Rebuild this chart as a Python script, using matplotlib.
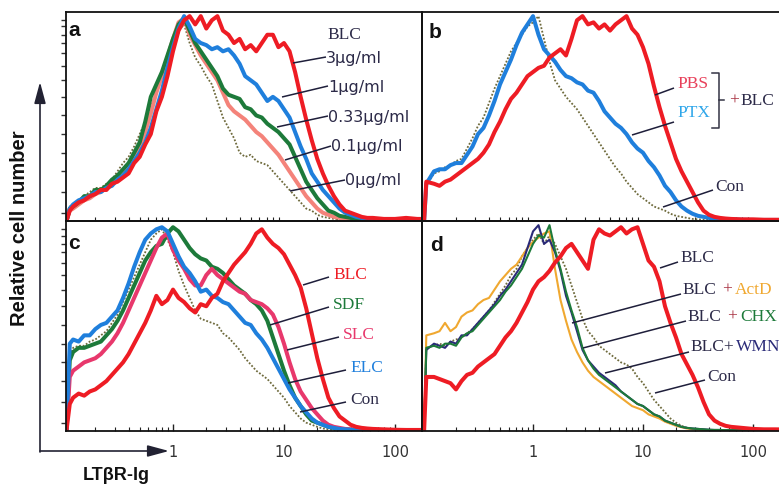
import numpy as np
import matplotlib
matplotlib.use("Agg")
import matplotlib.pyplot as plt
from matplotlib.ticker import LogLocator, NullFormatter

W, H = 779, 491

# channel positions (log10 of LTbR-Ig intensity); same middle grid for both columns
MID = [-0.9, -0.85, -0.8, -0.75, -0.7, -0.65, -0.6, -0.55, -0.5, -0.45,
       -0.4, -0.35, -0.3, -0.25, -0.2, -0.15, -0.1, -0.05, 0.0, 0.05,
       0.1, 0.15, 0.2, 0.25, 0.3, 0.35, 0.4, 0.45, 0.5, 0.55,
       0.6, 0.65, 0.7, 0.75, 0.8, 0.85, 0.9, 0.95, 1.0, 1.05,
       1.1, 1.15, 1.2, 1.25, 1.3, 1.35, 1.4, 1.45, 1.5, 1.55,
       1.6, 1.65, 1.7, 1.75, 1.8, 1.9, 2.0, 2.1, 2.2]
LOG_LEFT = [-0.96, -0.93] + MID + [2.25]
LOG_RIGHT = [-0.99, -0.97] + MID + [2.43]

# panel a: BLC dose
a_3ug = [0, 5,
         7, 9, 10, 12, 13, 15, 15, 18, 19, 21,
         23, 28, 31, 37, 42, 53, 60, 70, 82, 92,
         97, 99, 95, 99, 93, 97, 99, 92, 90, 86,
         88, 83, 85, 82, 86, 90, 90, 84, 86, 82,
         72, 60, 49, 39, 30, 23, 17, 12, 8, 5,
         4, 3, 2, 1.5, 1.5,
         1, 1, 1.5, 1, 1]
a_1ug = [0, 6,
         8, 10, 11, 12, 14, 14, 16, 17, 20, 22,
         25, 29, 33, 38, 45, 54, 63, 74, 84, 93,
         99, 94, 88, 86, 85, 83, 84, 82, 83, 80,
         76, 70, 68, 66, 62, 58, 60, 58, 54, 50,
         43, 36, 30, 23, 19, 15, 12, 9, 6, 4,
         3, 2, 1.5, 1, 1,
         0.8, 0.8, 0.8, 0.5, 0.5]
a_033ug = [0, 6,
           7, 9, 12, 12, 15, 15, 17, 20, 22, 25,
           28, 33, 38, 48, 60, 66, 72, 80, 88, 95,
           98, 92, 86, 82, 78, 74, 70, 64, 61, 60,
           59, 55, 54, 51, 50, 47, 45, 43, 40, 37,
           31, 25, 19, 15, 11, 8, 5, 4, 2.5, 2,
           1.5, 1, 1, 0.8, 0.8,
           0.5, 0.5, 0.5, 0.5, 0.5]
a_01ug = [0, 5,
          6, 8, 10, 11, 13, 14, 16, 18, 20, 22,
          26, 30, 36, 43, 52, 62, 70, 79, 88, 96,
          98, 90, 85, 80, 76, 72, 68, 62, 56, 53,
          51, 49, 46, 43, 41, 38, 35, 32, 28, 24,
          20, 16, 12, 9, 6, 4, 3, 2, 1.5, 1,
          0.8, 0.6, 0.5, 0.5, 0.4,
          0.4, 0.4, 0.4, 0.4, 0.4]
a_0ug = [0, 7,
         8, 10, 12, 14, 16, 16, 18, 20, 24, 28,
         31, 36, 42, 48, 55, 62, 70, 78, 86, 92,
         95, 86, 79, 75, 70, 66, 58, 50, 45, 40,
         33, 31, 32, 29, 28, 27, 24, 21, 18, 15,
         12, 9, 6, 5, 3, 2, 1.5, 1, 0.6, 0.5,
         0.4, 0.3, 0.3, 0.3, 0.3,
         0.3, 0.3, 0.3, 0.3, 0.3]

# panel b: PBS / PTX treated cells + BLC
b_pbs = [0, 19,
         18, 17, 19, 20, 22, 24, 26, 28, 30, 33,
         37, 43, 48, 54, 59, 62, 66, 70, 72, 74,
         75, 79, 81, 83, 80, 88, 97, 99, 95, 96,
         93, 95, 92, 95, 97, 99, 93, 90, 84, 76,
         65, 55, 46, 38, 30, 24, 19, 14, 9, 5,
         3, 2, 1.5, 1.2, 1,
         0.8, 0.8, 0.6, 0.6, 0.5]
b_ptx = [0, 18,
         24, 25, 25, 27, 28, 28, 32, 36, 42, 45,
         51, 58, 66, 72, 78, 85, 91, 95, 99, 90,
         83, 80, 77, 73, 70, 69, 67, 66, 63, 62,
         58, 53, 50, 47, 45, 42, 38, 35, 33, 29,
         26, 22, 17, 14, 10, 7, 5, 3.5, 2.5, 2,
         1.5, 1.2, 1, 0.8, 0.8,
         0.6, 0.5, 0.5, 0.5, 0.5]
b_con = [0, 17,
         23, 24, 26, 27, 29, 30, 35, 40, 46, 50,
         57, 64, 70, 76, 82, 86, 90, 94, 96, 99,
         88, 77, 68, 64, 60, 57, 54, 50, 46, 42,
         38, 34, 30, 26, 23, 19, 16, 13, 11, 9,
         7, 6, 5, 3.5, 2.5, 2, 1.5, 1, 0.8, 0.6,
         0.5, 0.4, 0.3, 0.3, 0.3,
         0.3, 0.3, 0.3, 0.3, 0.3]

# panel c: chemokines
c_blc = [0, 13,
         16, 18, 17, 19, 20, 22, 24, 27, 30, 33,
         37, 42, 47, 52, 58, 65, 61, 63, 68, 64,
         62, 59, 57, 61, 60, 64, 66, 72, 76, 80,
         83, 86, 90, 95, 97, 93, 90, 88, 85, 80,
         75, 69, 59, 47, 35, 25, 16, 11, 7, 5,
         3, 2, 1.5, 1.2, 1,
         0.8, 0.6, 0.5, 0.5, 0.5]
c_sdf = [0, 34,
         38, 40, 40, 41, 42, 43, 46, 49, 53, 58,
         64, 70, 76, 82, 86, 89, 90, 95, 98, 96,
         92, 88, 85, 83, 82, 79, 78, 76, 73, 70,
         68, 66, 63, 61, 58, 53, 45, 37, 29, 22,
         16, 12, 8, 5, 4, 3, 2, 1.5, 1, 0.8,
         0.6, 0.5, 0.5, 0.4, 0.4,
         0.4, 0.4, 0.4, 0.4, 0.4]
c_slc = [0, 26,
         29, 31, 33, 34, 35, 37, 40, 43, 47, 52,
         58, 64, 70, 76, 82, 88, 93, 95, 87, 82,
         78, 73, 70, 70, 75, 78, 75, 73, 71, 69,
         67, 66, 63, 62, 61, 59, 56, 50, 42, 33,
         25, 19, 15, 11, 8, 5, 3, 2, 1.5, 1,
         0.8, 0.6, 0.5, 0.4, 0.4,
         0.4, 0.4, 0.4, 0.4, 0.4]
c_elc = [0, 42,
         44, 43, 46, 46, 49, 51, 52, 55, 58, 64,
         71, 79, 86, 92, 95, 97, 98, 96, 90, 84,
         79, 76, 72, 67, 68, 65, 64, 62, 61, 58,
         55, 52, 51, 47, 44, 40, 35, 30, 25, 20,
         16, 12, 9, 6, 4, 3, 2, 1.5, 1, 0.8,
         0.6, 0.5, 0.5, 0.4, 0.4,
         0.4, 0.4, 0.4, 0.4, 0.4]
c_con = [0, 36,
         40, 41, 41, 43, 44, 46, 48, 52, 56, 62,
         68, 74, 80, 86, 92, 95, 97, 92, 86, 77,
         70, 64, 58, 54, 53, 52, 51, 47, 45, 42,
         39, 35, 32, 29, 27, 25, 22, 19, 16, 12,
         9, 6, 4, 3, 2, 1.2, 0.8, 0.5, 0.4, 0.3,
         0.3, 0.3, 0.3, 0.3, 0.3,
         0.3, 0.3, 0.3, 0.3, 0.3]

# panel d: BLC with inhibitors
d_blc = [0, 26,
         26, 25, 24, 23, 20, 24, 27, 28, 31, 33,
         35, 37, 41, 45, 48, 52, 57, 62, 68, 72,
         74, 77, 81, 84, 88, 90, 86, 82, 78, 92,
         97, 95, 94, 96, 98, 95, 97, 98, 90, 82,
         79, 72, 60, 52, 45, 37, 32, 27, 21, 14,
         8, 5, 3.5, 2.5, 2,
         1.5, 1, 0.8, 0.8, 0.6]
d_actd = [0, 46,
          47, 48, 52, 48, 50, 55, 57, 58, 61, 63,
          64, 68, 72, 75, 78, 80, 84, 88, 91, 93,
          95, 96, 78, 63, 53, 44, 38, 33, 29, 26,
          24, 22, 20, 18, 16, 14, 12, 11, 10, 8,
          7, 6, 4.5, 3.5, 2.5, 1.8, 1.2, 0.9, 0.6, 0.5,
          0.4, 0.4, 0.4, 0.4, 0.4,
          0.4, 0.4, 0.4, 0.4, 0.4]
d_chx = [0, 40,
         41, 40, 42, 42, 41, 45, 47, 48, 51, 54,
         57, 60, 63, 67, 70, 74, 78, 84, 90, 94,
         93, 99, 87, 78, 67, 58, 50, 40, 34, 30,
         27, 25, 23, 21, 19, 17, 15, 13, 12, 10,
         8, 7, 5, 4, 3, 2, 1.5, 1.2, 1, 0.8,
         0.6, 0.5, 0.5, 0.4, 0.4,
         0.4, 0.4, 0.4, 0.4, 0.4]
d_wmn = [0, 39,
         42, 41, 40, 43, 42, 46, 46, 49, 52, 55,
         58, 61, 65, 68, 72, 76, 80, 88, 96, 99,
         90, 92, 86, 77, 65, 57, 48, 39, 34, 31,
         28, 26, 24, 22, 19, 17, 15, 13, 12, 10,
         8, 7, 5, 4, 3, 2, 1.5, 1.2, 1, 0.8,
         0.6, 0.5, 0.5, 0.4, 0.4,
         0.4, 0.4, 0.4, 0.4, 0.4]
d_con = [0, 40,
         41, 42, 41, 43, 44, 45, 47, 49, 52, 55,
         58, 62, 66, 70, 75, 78, 84, 88, 92, 95,
         90, 94, 90, 84, 78, 70, 62, 54, 48, 45,
         41, 39, 37, 35, 33, 32, 30, 26, 23, 19,
         15, 12, 9, 6, 4, 2.5, 1.5, 1, 0.8, 0.5,
         0.4, 0.3, 0.3, 0.3, 0.3,
         0.3, 0.3, 0.3, 0.3, 0.3]

TICK_VALUES = [1, 10, 100]
TICK_LABELS = ["1", "10", "100"]

RED = "#ee1c24"
BLUE = "#1f7fdc"
GREEN = "#1d7a3a"
SALMON = "#f4837a"
PINK = "#e8386c"
NAVY = "#2a2a78"
ORANGE = "#f0a830"
CON = "#6e6a3c"
INK = "#2c2a48"


def rect(x0, y0, x1, y1):
    return [x0 / W, 1 - y1 / H, (x1 - x0) / W, (y1 - y0) / H]


fig = plt.figure(figsize=(W / 100, H / 100), dpi=100)
fig.patch.set_facecolor("white")

# pixel position of "1" and px per decade for each column
one_l, dec_l = 173, 111
one_r, dec_r = 533, 110

axa = fig.add_axes(rect(66, 12, 422, 221))
axb = fig.add_axes(rect(422, 12, 800, 221))
axc = fig.add_axes(rect(66, 221, 422, 431))
axd = fig.add_axes(rect(422, 221, 800, 431))

for ax, left in [(axa, True), (axc, True), (axb, False), (axd, False)]:
    ax.set_xscale("log")
    if left:
        ax.set_xlim(10 ** ((66 - one_l) / dec_l), 10 ** ((422 - one_l) / dec_l))
    else:
        ax.set_xlim(10 ** ((422 - one_r) / dec_r), 10 ** ((800 - one_r) / dec_r))
    ax.set_ylim(0, 101)
    for s in ax.spines.values():
        s.set_linewidth(1.3)
        s.set_color("#111111")
    ax.set_yticks([])
    ax.tick_params(axis="x", which="both", direction="in", colors="#222222")
    ax.patch.set_alpha(0)

for ax in (axa, axb):
    ax.set_xticks([])
    ax.xaxis.set_minor_locator(LogLocator(base=10, subs="auto"))
    ax.xaxis.set_minor_formatter(NullFormatter())
    ax.tick_params(axis="x", which="minor", length=3, width=0.8)

for ax in (axc, axd):
    ax.set_xticks(TICK_VALUES, labels=TICK_LABELS)
    ax.xaxis.set_minor_locator(LogLocator(base=10, subs="auto"))
    ax.xaxis.set_minor_formatter(NullFormatter())
    ax.tick_params(axis="x", which="major", length=5, width=1, pad=10, labelsize=10.5,
                   labelcolor="#333333")
    ax.tick_params(axis="x", which="minor", length=3, width=0.8)

# little ticks on the left edge of a and c
for ax in (axa, axc):
    ax.set_yticks([4, 14, 24, 33, 42, 51, 60, 68, 75, 81, 86, 90, 94, 97])
    ax.set_yticklabels([])
    ax.tick_params(axis="y", direction="out", length=3.5, width=1, colors="#333333")

xl = 10 ** np.array(LOG_LEFT)
xr = 10 ** np.array(LOG_RIGHT)
thick = 2.9
thin = 1.5
dots = dict(color=CON, lw=1.3, ls=(0, (1, 1)))

axa.plot(xl, a_0ug, **dots)
axa.plot(xl, a_01ug, color=SALMON, lw=thick)
axa.plot(xl, a_033ug, color=GREEN, lw=thick)
axa.plot(xl, a_1ug, color=BLUE, lw=thick)
axa.plot(xl, a_3ug, color=RED, lw=thick)

axb.plot(xr, b_con, **dots)
axb.plot(xr, b_ptx, color=BLUE, lw=thick)
axb.plot(xr, b_pbs, color=RED, lw=thick)

axc.plot(xl, c_con, **dots)
axc.plot(xl, c_sdf, color=GREEN, lw=thick)
axc.plot(xl, c_slc, color=PINK, lw=thick)
axc.plot(xl, c_elc, color=BLUE, lw=thick)
axc.plot(xl, c_blc, color=RED, lw=thick)

axd.plot(xr, d_con, **dots)
axd.plot(xr, d_actd, color=ORANGE, lw=thin)
axd.plot(xr, d_wmn, color=NAVY, lw=thin)
axd.plot(xr, d_chx, color=GREEN, lw=thin)
axd.plot(xr, d_blc, color=RED, lw=thick)

# overlay in pixel coordinates for labels, leaders and the axis arrows
ov = fig.add_axes([0, 0, 1, 1])
ov.set_xlim(0, W)
ov.set_ylim(H, 0)
ov.axis("off")
ov.patch.set_alpha(0)

bold = dict(family="Liberation Sans", weight="bold", color="#111111")
for txt, x, y in [("a", 68, 30), ("b", 429, 32), ("c", 68, 243), ("d", 430, 245)]:
    ov.text(x, y, txt, fontsize=15, ha="left", va="center", **bold)

ov.text(20, 228, "Relative cell number", rotation=90, fontsize=14.5, ha="center",
        va="center", **bold)
ov.text(116, 476, "LTβR-Ig", fontsize=13, ha="center", va="center", **bold)

ov.annotate("", xy=(40, 82), xytext=(40, 452),
            arrowprops=dict(arrowstyle="-|>,head_length=1.3,head_width=0.35",
                            color="#222233", lw=1.2, shrinkA=0, shrinkB=0))
ov.annotate("", xy=(169, 451), xytext=(40, 451),
            arrowprops=dict(arrowstyle="-|>,head_length=1.3,head_width=0.35",
                            color="#222233", lw=1.2, shrinkA=0, shrinkB=0))

sans = dict(family="DejaVu Sans", fontsize=11.5, color=INK, va="center", ha="left")
serif = dict(family="Liberation Serif", fontsize=12.5, va="center", ha="left")


def leader(x0, y0, x1, y1):
    ov.plot([x0, x1], [y0, y1], color="#1e1e3a", lw=1.1, solid_capstyle="butt")


# panel a
ov.text(327, 35, "BLC", color=INK, **serif)
for txt, x, y, l in [("3µg/ml", 326, 58, (293, 63)), ("1µg/ml", 328, 87, (282, 97)),
                     ("0.33µg/ml", 328, 117, (277, 127)), ("0.1µg/ml", 331, 147, (285, 160)),
                     ("0µg/ml", 345, 181, (290, 191))]:
    ov.text(x, y, txt, **sans)
    leader(l[0], l[1], x, y - 1)

# panel b
ov.text(677, 84, "PBS", color="#e8405a", **serif)
ov.text(677, 113, "PTX", color="#2ea6ea", **serif)
ov.plot([712, 719, 719, 712], [73, 73, 128, 128], color="#333344", lw=1.1)
ov.plot([719, 724], [100, 100], color="#333344", lw=1.1)
ov.text(729, 101, "+", color="#a83040", **serif)
ov.text(740, 101, "BLC", color=INK, **serif)
ov.text(715, 187, "Con", color=INK, **serif)
leader(655, 95, 674, 88)
leader(632, 135, 674, 122)
leader(663, 207, 713, 190)

# panel c
for txt, col, x, y, l in [("BLC", RED, 333, 275, (303, 285)), ("SDF", GREEN, 333, 305, (270, 325)),
                          ("SLC", PINK, 343, 335, (287, 350)), ("ELC", BLUE, 350, 368, (288, 383)),
                          ("Con", INK, 350, 400, (300, 412))]:
    ov.text(x, y, txt, color=col, **serif)
    leader(l[0], l[1], x - 4, y + 2)

# panel d
ov.text(680, 258, "BLC", color=INK, **serif)
leader(660, 268, 678, 262)
for name, col, x, y, l in [("ActD", ORANGE, 682, 290, (572, 323)), ("CHX", GREEN, 687, 317, (583, 348))]:
    ov.text(x, y, "BLC", color=INK, **serif)
    ov.text(x + 40, y, "+", color="#a83040", **serif)
    ov.text(x + 53, y, name, color=col, **serif)
    leader(l[0], l[1], x - 1, y + 4)
ov.text(690, 347, "BLC+", color=INK, **serif)
ov.text(736, 347, "WMN", color=NAVY, **serif)
leader(605, 373, 689, 352)
ov.text(707, 377, "Con", color=INK, **serif)
leader(655, 393, 705, 380)

fig.savefig("out.png", dpi=100, facecolor="white")
